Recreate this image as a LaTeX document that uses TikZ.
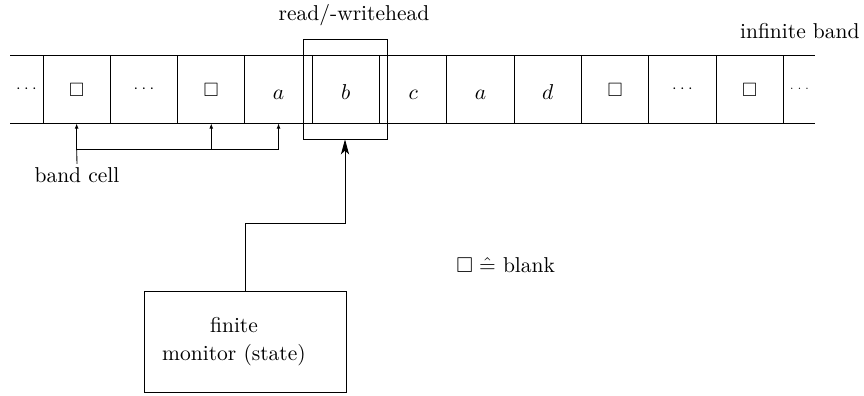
\documentclass[tikz,border=0pt]{standalone}
\usepackage{amssymb}
\usetikzlibrary{arrows.meta}
\begin{document}
\begin{tikzpicture}[x=0.4651pt,y=-0.4651pt,
  cell/.style={minimum width=31.3pt,minimum height=31.4pt,inner sep=0pt,text height=9.35pt,text depth=0pt},
  blankcell/.style={cell,text height=6.74pt,font=\small},
  dotcell/.style={minimum width=15pt,minimum height=31.4pt,inner sep=0pt,font=\scriptsize},
  smallarrow/.style={-{Latex[length=2.4pt,width=1.8pt]}},
  bigarrow/.style={-{Stealth[length=7pt,width=3.8pt,inset=1.8pt]}},
  frame/.style={draw,inner sep=0pt},
  plain/.style={inner sep=0pt}]
\useasboundingbox (0,0) rectangle (864,396);
% tape
\draw (10,55.5) -- (815,55.5);
\draw (10,123) -- (815,123);
\foreach \i in {0,...,11} \draw (43+67.3*\i,55.5) -- (43+67.3*\i,123);
% cell contents
\node[dotcell] (c0) at (26.5,89.25) {$\cdots$};
\node[blankcell] (c1) at (76.65,89.25) {$\square$};
\node[dotcell] (c2) at (143.95,89.25) {$\cdots$};
\node[blankcell] (c3) at (211.25,89.25) {$\square$};
\node[cell] (c4) at (278.55,89.25) {$a$};
\node[cell] (c5) at (345.85,89.25) {$b$};
\node[cell] (c6) at (413.15,89.25) {$c$};
\node[cell] (c7) at (480.45,89.25) {$a$};
\node[cell] (c8) at (547.75,89.25) {$d$};
\node[blankcell] (c9) at (615.05,89.25) {$\square$};
\node[dotcell] (c10) at (682.35,89.25) {$\cdots$};
\node[blankcell] (c11) at (749.65,89.25) {$\square$};
\node[dotcell,font=\tiny] (c12) at (799.5,89.25) {$\cdots$};
% read/write head
\node[frame,minimum width=39.07pt,minimum height=46.5pt] (head) at (345,89) {};
\node[anchor=base,plain] (headlabel) at (354,21) {read/-writehead};
\node[anchor=base east,plain] (bandlabel) at (860,39) {infinite band};
% band cell pointer
\node[inner sep=1.5pt] (bandcell) at (77,175) {band cell};
\coordinate (j) at (76.65,149);
\draw (bandcell.north) -- (j);
\draw[smallarrow] (j) -- (c1.south);
\draw[smallarrow] (j) -| (c3.south);
\draw[smallarrow] (j) -| (c4.south);
% monitor
\node[frame,minimum width=93.95pt,minimum height=46.97pt] (monitor) at (245,341.5) {};
\node[align=center,plain] (monitortext) at (234,342) {finite\\[1pt]monitor (state)};
\draw[bigarrow] (monitor.north) -- ++(0,-67) -| (head.south);
% legend
\node[anchor=base west,plain] (legend) at (456,273) {$\square\mathrel{\hat{=}}$ blank};
\end{tikzpicture}
\end{document}
